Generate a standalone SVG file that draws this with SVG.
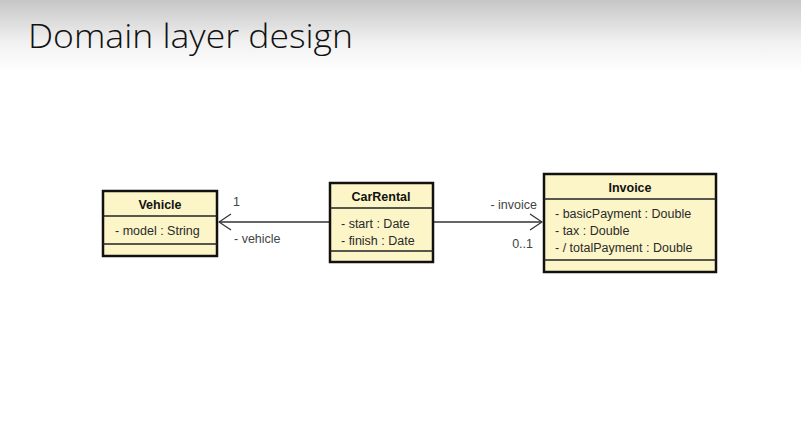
<svg xmlns="http://www.w3.org/2000/svg" width="801" height="432" viewBox="0 0 801 432">
<defs>
<linearGradient id="bg" x1="0" y1="0" x2="0" y2="1">
<stop offset="0" stop-color="#c6c6c6"/>
<stop offset="0.6" stop-color="#f2f2f2"/>
<stop offset="1" stop-color="#ffffff"/>
</linearGradient>
<marker id="open" markerWidth="14" markerHeight="18" refX="13" refY="9" orient="auto" markerUnits="userSpaceOnUse">
<path d="M1,1 L13,9 L1,17" fill="none" stroke="#333" stroke-width="1.3"/>
</marker>
<style>
.box{fill:#fcf5c8;stroke:#111;stroke-width:2.5}
.sep{stroke:#222;stroke-width:1.3}
.t{font-family:"Liberation Sans",Arial,sans-serif;font-size:12.5px;fill:#2a2a2a}
.b{font-weight:bold;text-anchor:middle;fill:#111}
.lbl{font-family:"Liberation Sans",Arial,sans-serif;font-size:12.5px;fill:#444}
.edge{stroke:#333;stroke-width:1.3;fill:none}
</style>
</defs>
<rect x="0" y="0" width="801" height="432" fill="#ffffff"/>
<rect x="0" y="0" width="801" height="72" fill="url(#bg)"/>
<text x="28" y="48" font-family="'Open Sans','DejaVu Sans',sans-serif" font-weight="300" font-size="33" fill="#111" textLength="325" lengthAdjust="spacingAndGlyphs">Domain layer design</text>

<g id="connectors">
<line class="edge" x1="329" y1="222" x2="219" y2="222" marker-end="url(#open)"/>
<line class="edge" x1="433" y1="222" x2="542" y2="222" marker-end="url(#open)"/>
<text class="lbl" x="233" y="206">1</text>
<text class="lbl" x="234" y="243">- vehicle</text>
<text class="lbl" x="537" y="209" text-anchor="end">- invoice</text>
<text class="lbl" x="533" y="248" text-anchor="end">0..1</text>
</g>

<g id="Vehicle">
<rect class="box" x="103" y="191" width="114" height="65"/>
<line class="sep" x1="103" y1="216" x2="217" y2="216"/>
<line class="sep" x1="103" y1="244" x2="217" y2="244"/>
<text class="t b" x="160" y="209">Vehicle</text>
<text class="t" x="115" y="235">- model : String</text>
</g>

<g id="CarRental">
<rect class="box" x="330" y="183" width="103" height="79"/>
<line class="sep" x1="330" y1="208" x2="433" y2="208"/>
<line class="sep" x1="330" y1="251" x2="433" y2="251"/>
<text class="t b" x="381" y="201">CarRental</text>
<text class="t" x="341" y="228">- start : Date</text>
<text class="t" x="341" y="245">- finish : Date</text>
</g>

<g id="Invoice">
<rect class="box" x="544" y="174" width="172" height="98"/>
<line class="sep" x1="544" y1="199" x2="716" y2="199"/>
<line class="sep" x1="544" y1="260" x2="716" y2="260"/>
<text class="t b" x="630" y="192">Invoice</text>
<text class="t" x="555" y="218">- basicPayment : Double</text>
<text class="t" x="555" y="235">- tax : Double</text>
<text class="t" x="555" y="252">- / totalPayment : Double</text>
</g>
</svg>
